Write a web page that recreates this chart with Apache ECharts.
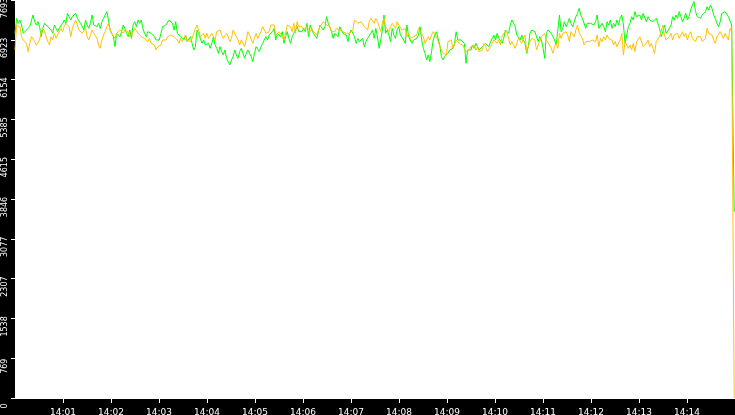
<!DOCTYPE html>
<html>
<head>
<meta charset="utf-8">
<script src="https://cdn.jsdelivr.net/npm/echarts@6/dist/echarts.min.js"></script>
<style>
  html, body { margin: 0; padding: 0; background: #000; }
  #chart { width: 735px; height: 415px; }
</style>
</head>
<body>
<div id="chart"></div>
<script>
// seconds after 14:00:00, one sample roughly every 2 s
const SAMPLE_STEP = 2.05;
const END_TIME = 899;

const greenValues = [
  // 14:00 - 14:03
  7049,7339,7242,7306,7210,7049,7081,7113,7081,7178,
  7210,7403,7274,7210,7274,7178,6984,7145,7242,7210,
  7178,7145,7113,7049,7210,7145,7081,7145,7113,7242,
  7306,7242,7435,7403,7306,7371,7403,7435,7339,7306,
  7242,7210,7113,7306,7210,7145,7242,7403,7210,7242,
  7178,7242,7145,7274,7339,7371,7468,7306,7113,7081,
  6984,6791,7049,7017,6984,7081,7210,7145,7049,6984,
  7113,6952,7210,7274,7178,7306,7242,7306,7145,7049,
  6984,7081,7113,7049,7081,6984,6920,6888,
  // 14:03 - 14:06
  6920,7049,7178,7145,7210,7210,7306,7339,7242,7113,
  7274,7049,7081,6984,6984,6920,7017,6888,6920,6984,
  6855,6727,6791,7113,7049,6952,6855,6920,6823,6791,
  6855,6759,6855,6984,6823,6759,6662,6791,6695,6630,
  6727,6566,6501,6437,6533,6598,6727,6630,6566,6695,
  6759,6727,6566,6662,6727,6695,6598,6501,6662,6791,
  6823,6695,6791,6855,6920,6984,6920,7017,7049,7081,
  7145,6920,7049,7049,6984,7081,6855,6984,7081,6952,
  6855,6984,7049,7081,7178,7081,7113,7081,
  // 14:06 - 14:09
  7145,7081,7242,6984,7210,7113,7049,7017,6952,7081,
  7210,7178,7113,7178,7371,7242,7210,7081,6952,7049,
  7081,6984,7178,7113,7049,7081,7017,6888,7049,7113,
  7145,6984,6855,6952,6888,6920,6952,6791,6888,6952,
  6984,7049,7113,6952,7145,6984,6759,6920,7113,7403,
  7049,7113,7017,6888,7145,7017,6952,7113,7178,7017,
  6984,6920,6855,7210,6984,6952,6855,6920,6888,6952,
  7017,7178,6920,6759,6662,6533,6630,6501,6695,6920,
  7017,7081,6952,6823,6598,6533,6598,6566,
  // 14:09 - 14:12
  6662,6727,6695,6759,6855,7081,6920,6888,6920,6952,
  6855,6469,6727,6759,6727,6823,6759,6855,6791,6727,
  6695,6791,6759,6855,6823,6791,6888,6855,7017,6920,
  7049,6952,6920,6855,6952,7113,7081,7049,7210,7306,
  7242,7178,7017,6984,6920,7017,6920,6855,6662,6791,
  7049,7113,7145,7081,7049,6888,6984,6920,6759,6566,
  7049,7113,7145,7049,6984,6920,6823,6791,7403,7081,
  7145,7274,7178,7242,7339,7242,7178,7210,7371,7435,
  7532,7403,7339,7306,7145,7242,7210,7242,
  // 14:12 - 14:15
  7242,7210,7274,7403,7145,7113,7242,7178,7081,7274,
  7210,7306,7145,7242,7178,7306,7210,7339,7403,7210,
  6855,7017,7178,7242,7371,7306,7468,7371,7339,7403,
  7306,7435,7403,7274,7371,7306,7339,7274,7242,7339,
  7306,7145,6984,7081,7210,7049,7081,7145,7210,7371,
  7306,7403,7339,7468,7371,7274,7339,7435,7306,7371,
  7500,7596,7661,7468,7371,7403,7339,7403,7371,7468,
  7564,7500,7596,7532,7403,7339,7242,7178,7274,7435,
  7403,7468,7435,7371,7339,7210,7242
];
const greenEnd = 3600;

const orangeValues = [
  // 14:00 - 14:03
  6727,7210,7242,7178,6984,6920,6888,6855,6695,6855,
  6984,6984,6888,6823,6791,6920,7081,7145,7081,7049,
  6888,6823,6984,6920,7049,6952,7017,7049,7145,7081,
  7178,7242,7210,7178,6984,7145,7242,7306,7210,7113,
  7081,7049,7049,7145,6984,6920,7017,7113,7049,7017,
  6952,6823,6759,6920,7017,7081,7178,7242,7113,7049,
  7017,6952,7049,7081,7113,7081,7049,7113,7145,7081,
  6984,6952,7081,7145,7113,7049,7081,6984,7017,6952,
  6920,6888,6952,6855,6888,6823,6727,6791,
  // 14:03 - 14:06
  6791,6823,6920,6952,6920,6984,6984,7017,7049,6984,
  7017,6920,6855,6952,6888,6920,7017,6920,6952,6888,
  6952,6920,7145,7210,7113,6984,6952,7049,6952,7049,
  6952,6952,7049,6984,6920,7081,7049,7113,7017,6952,
  6984,7049,6984,6888,6952,7113,7049,7017,6920,6823,
  6920,6888,6791,6920,7081,7017,6984,6855,6952,7049,
  6952,6920,7081,7178,7145,7049,7017,7081,7210,7178,
  7210,7017,6984,7081,7049,6984,6920,7049,7210,7242,
  7178,7081,7242,7049,7274,7178,7210,7178,
  // 14:06 - 14:09
  7113,7081,7178,7145,7081,7145,7081,7049,7017,7113,
  7178,7210,7274,7242,7210,7242,7178,7081,7049,7081,
  7145,7178,7113,7145,7081,7113,7049,7081,7049,7081,
  7113,7306,7339,7242,7210,7274,7242,7178,7210,7113,
  7274,7339,7371,7242,7339,7274,7178,7081,7242,7339,
  7178,7145,7081,7178,7242,7210,7145,7274,7210,7242,
  7113,7081,7145,6984,7049,6952,6920,6984,6952,7017,
  7145,7178,7049,6984,6855,6888,6984,6920,7017,7081,
  7049,6984,6888,6855,6727,6662,6695,6630,
  // 14:09 - 14:12
  6888,6855,6920,6759,6823,6920,6952,6855,6888,6823,
  6759,6695,6662,6727,6791,6759,6823,6727,6791,6695,
  6662,6727,6855,6791,6695,6662,6791,6855,6920,6952,
  6855,6920,6823,6984,7049,7017,7081,7049,6823,6888,
  6920,6759,6727,6952,6984,6855,6952,7017,6695,6791,
  6888,6952,6984,6920,6727,6823,6888,6984,6952,7049,
  6920,6952,6823,6759,6662,6791,6855,6759,7049,6952,
  7049,7017,7081,7017,6888,7081,7049,6984,7113,7210,
  7049,7017,6952,6823,6888,6920,6888,6920,
  // 14:12 - 14:15
  6920,6952,6888,7017,6791,6952,6888,6984,6920,7017,
  6952,6984,6920,6823,6888,6791,6823,6920,7049,6630,
  6888,6855,6759,6823,6727,6855,6695,6888,6855,6984,
  6888,6791,6823,6855,6920,6791,6855,6823,6662,6888,
  6920,6984,7081,7210,7017,6920,6888,6984,7049,6920,
  7017,6984,7049,6952,7017,7081,6984,7049,6920,7017,
  7081,6952,6984,6888,6984,6952,6984,6888,6855,6952,
  7145,7049,7081,7017,6920,6855,6984,7017,7081,7049,
  6952,7049,7081,6920,7145,7081,7113
];
const orangeEnd = 0;

const yMax = 7693;
const yStep = 769.3;

function toSeries(values, endValue) {
  const pts = values.map((v, i) => [i * SAMPLE_STEP, v]);
  pts.push([END_TIME, endValue]);
  return pts;
}

const chart = echarts.init(document.getElementById('chart'));

chart.setOption({
  animation: false,
  backgroundColor: '#000',
  grid: {
    left: 15,
    right: 0,
    top: 0,
    bottom: 17,
    containLabel: false,
    outerBoundsMode: 'none',
    show: true,
    backgroundColor: '#fff',
    borderWidth: 0
  },
  xAxis: {
    type: 'value',
    min: 0,
    max: 900,
    interval: 60,
    splitLine: {show: false},
    axisLine: {lineStyle: {color: '#fff', width: 1}},
    axisTick: {show: true, length: 5, lineStyle: {color: '#fff'}},
    axisLabel: {
      color: '#fff',
      fontFamily: 'DejaVu Sans',
      fontSize: 9,
      margin: 10,
      showMinLabel: false,
      showMaxLabel: false,
      formatter: v => '14:' + String(Math.round(v / 60)).padStart(2, '0')
    }
  },
  yAxis: {
    type: 'value',
    min: 0,
    max: yMax,
    interval: yStep,
    splitLine: {show: false},
    axisLine: {show: false},
    axisTick: {show: true, length: 4, lineStyle: {color: '#fff'}},
    axisLabel: {
      color: '#fff',
      fontFamily: 'DejaVu Sans',
      fontSize: 8,
      rotate: 90,
      margin: 6,
      padding: [0, 16, 0, 0],
      formatter: v => String(Math.floor(v + 0.01))
    }
  },
  series: [
    {
      type: 'line',
      data: toSeries(greenValues, greenEnd),
      showSymbol: false,
      lineStyle: {color: '#00ff00', width: 1},
      itemStyle: {color: '#00ff00'}
    },
    {
      type: 'line',
      data: toSeries(orangeValues, orangeEnd),
      showSymbol: false,
      lineStyle: {color: '#ffc000', width: 1},
      itemStyle: {color: '#ffc000'}
    }
  ]
});
</script>
</body>
</html>
